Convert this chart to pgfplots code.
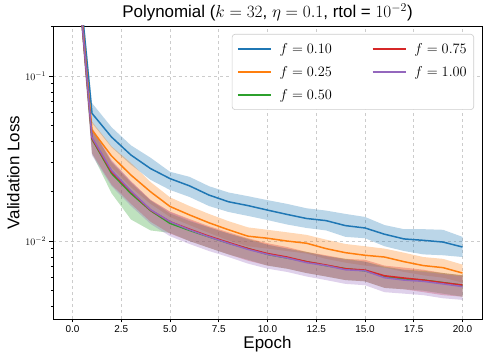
\documentclass[border=0pt]{standalone}
\usepackage{fontspec}
\setmainfont{Liberation Sans}
\usepackage{pgfplots}
\usepackage{pgfplotstable}
\pgfplotsset{compat=1.18}
\usepgfplotslibrary{fillbetween}

\definecolor{tblue}{HTML}{1F77B4}
\definecolor{torange}{HTML}{FF7F0E}
\definecolor{tgreen}{HTML}{2CA02C}
\definecolor{tred}{HTML}{D62728}
\definecolor{tpurple}{HTML}{9467BD}

\pgfplotstableread{
x m lo hi
0 1.0 0.9 1.1
1 0.0594 0.0519 0.0686
2 0.0427 0.0370 0.0490
3 0.0332 0.0290 0.0380
4 0.0275 0.0235 0.0320
5 0.0239 0.0204 0.0263
6 0.0216 0.0185 0.0245
7 0.0190 0.0163 0.0215
8 0.0173 0.0150 0.0197
9 0.0164 0.0142 0.0187
10 0.0154 0.0134 0.0177
11 0.0145 0.0126 0.0168
12 0.0137 0.0120 0.0158
13 0.0133 0.0116 0.0153
14 0.0124 0.0106 0.0146
15 0.0120 0.0104 0.0140
16 0.0110 0.0093 0.0125
17 0.0103 0.0087 0.0118
18 0.0101 0.0083 0.0118
19 0.00986 0.0082 0.0117
20 0.0092 0.0080 0.0106
}\tblA

\pgfplotstableread{
x m lo hi
0 1.0 0.9 1.1
1 0.0471 0.040 0.053
2 0.0328 0.0280 0.0375
3 0.0251 0.0212 0.0297
4 0.0199 0.0168 0.0228
5 0.0162 0.0140 0.0184
6 0.0144 0.0125 0.0163
7 0.0129 0.0112 0.0146
8 0.0117 0.0101 0.0132
9 0.0107 0.0093 0.0121
10 0.0104 0.0090 0.0117
11 0.0100 0.0087 0.0113
12 0.0097 0.0084 0.0109
13 0.0090 0.0078 0.0102
14 0.0085 0.0074 0.0096
15 0.0082 0.0071 0.0093
16 0.0080 0.0069 0.0090
17 0.0075 0.0065 0.0085
18 0.0071 0.0062 0.0080
19 0.0069 0.0060 0.0078
20 0.0064 0.0056 0.0072
}\tblB

\pgfplotstableread{
x m lo hi
0 1.0 0.9 1.1
1 0.0415 0.034 0.048
2 0.0257 0.0195 0.0300
3 0.0194 0.0135 0.0225
4 0.0153 0.0116 0.0176
5 0.0128 0.0112 0.0147
6 0.0116 0.0100 0.0132
7 0.0106 0.0091 0.0121
8 0.0097 0.0083 0.0111
9 0.0090 0.0077 0.0103
10 0.0083 0.0071 0.0095
11 0.0079 0.0068 0.0090
12 0.0075 0.0064 0.0086
13 0.0071 0.0061 0.0081
14 0.0068 0.0058 0.0078
15 0.0066 0.0057 0.0075
16 0.0061 0.0052 0.0070
17 0.0059 0.0051 0.0067
18 0.0058 0.0050 0.0066
19 0.0056 0.0048 0.0064
20 0.0054 0.0046 0.0062
}\tblC

\pgfplotstableread{
x m lo hi
0 1.0 0.9 1.1
1 0.0419 0.034 0.048
2 0.0263 0.0220 0.0305
3 0.0199 0.0168 0.0230
4 0.0154 0.0131 0.0178
5 0.0131 0.0111 0.0151
6 0.0118 0.0100 0.0136
7 0.0107 0.0091 0.0123
8 0.0098 0.0083 0.0113
9 0.0090 0.0076 0.0104
10 0.0084 0.0071 0.0097
11 0.0080 0.0068 0.0092
12 0.0075 0.0064 0.0086
13 0.00716 0.0061 0.0082
14 0.00679 0.0058 0.0078
15 0.00667 0.0057 0.0077
16 0.00616 0.0052 0.0071
17 0.00597 0.0051 0.0069
18 0.0058 0.0049 0.0067
19 0.00559 0.0047 0.0064
20 0.00541 0.0046 0.0062
}\tblD

\pgfplotstableread{
x m lo hi
0 1.0 0.9 1.1
1 0.0425 0.033 0.049
2 0.0268 0.0215 0.0310
3 0.0201 0.0163 0.0230
4 0.0155 0.0127 0.0177
5 0.0131 0.0107 0.0150
6 0.0117 0.0096 0.0134
7 0.0106 0.0087 0.0121
8 0.0097 0.0080 0.0111
9 0.0089 0.0073 0.0102
10 0.0083 0.0068 0.0095
11 0.0079 0.0065 0.0090
12 0.0074 0.0061 0.0085
13 0.0071 0.0058 0.0081
14 0.0067 0.0055 0.0077
15 0.0066 0.0054 0.0075
16 0.0060 0.0049 0.0069
17 0.0058 0.0048 0.0067
18 0.0057 0.0047 0.0065
19 0.0055 0.0045 0.0063
20 0.0053 0.0044 0.0061
}\tblE

\newcommand{\series}[4]{%
  \addplot[draw=none, forget plot, name path=#3u] table[x=x, y=hi] {#1};
  \addplot[draw=none, forget plot, name path=#3l] table[x=x, y=lo] {#1};
  \addplot[fill=#2, fill opacity=0.3, draw=none, forget plot] fill between[of=#3u and #3l];
  \addplot[#2, line width=1.5bp, mark=none] table[x=x, y=m] {#1};
  \addlegendentry{#4}
}

\begin{document}
\begin{tikzpicture}
\begin{axis}[
  name=ax,
  scale only axis,
  width=429bp, height=293bp,
  ymode=log,
  xmin=-1, xmax=21, ymin=0.00337, ymax=0.201,
  xtick={0,2.5,5,7.5,10,12.5,15,17.5,20},
  xticklabels={0.0,2.5,5.0,7.5,10.0,12.5,15.0,17.5,20.0},
  ytick={0.01,0.1},
  minor ytick={0.004,0.005,0.006,0.007,0.008,0.009,0.02,0.03,0.04,0.05,0.06,0.07,0.08,0.09,0.2},
  grid=major,
  major grid style={dashed, black!20, line width=0.6bp},
  tick align=outside, tick pos=left,
  major tick length=3.5bp, minor tick length=2bp,
  axis line style={line width=0.8bp},
  every tick/.style={black, line width=0.6bp},
  tick label style={font=\fontsize{10}{11}\selectfont},
  title={Polynomial ($k=32$, $\eta=0.1$, rtol = $10^{-2}$)},
  title style={font=\fontsize{17}{19}\selectfont, yshift=-5bp},
  xlabel={Epoch}, ylabel={Validation Loss},
  xlabel style={font=\fontsize{17}{19}\selectfont, yshift=4bp},
  ylabel style={font=\fontsize{17}{19}\selectfont, yshift=-1bp},
  legend columns=3,
  transpose legend,
  legend cell align=left,
  legend style={at={(1,1)}, anchor=north east, xshift=-8bp, yshift=-8bp,
    rounded corners=3bp, draw=black!20, line width=0.6bp,
    font=\fontsize{14}{16}\selectfont,
    inner xsep=5bp, inner ysep=7bp,
    /tikz/every odd column/.append style={column sep=6bp},
    /tikz/every even column/.append style={column sep=38bp},
    row sep=7.5bp},
  legend image code/.code={\draw[#1] (0bp,0bp) -- (33bp,0bp);},
]
\series{\tblA}{tblue}{a}{$f=0.10$}
\series{\tblB}{torange}{b}{$f=0.25$}
\series{\tblC}{tgreen}{c}{$f=0.50$}
\series{\tblD}{tred}{d}{$f=0.75$}
\series{\tblE}{tpurple}{e}{$f=1.00$}
\end{axis}
\path ([shift={(-53bp,-42bp)}]ax.south west) rectangle ([shift={(7bp,26bp)}]ax.north east);
\end{tikzpicture}
\end{document}
